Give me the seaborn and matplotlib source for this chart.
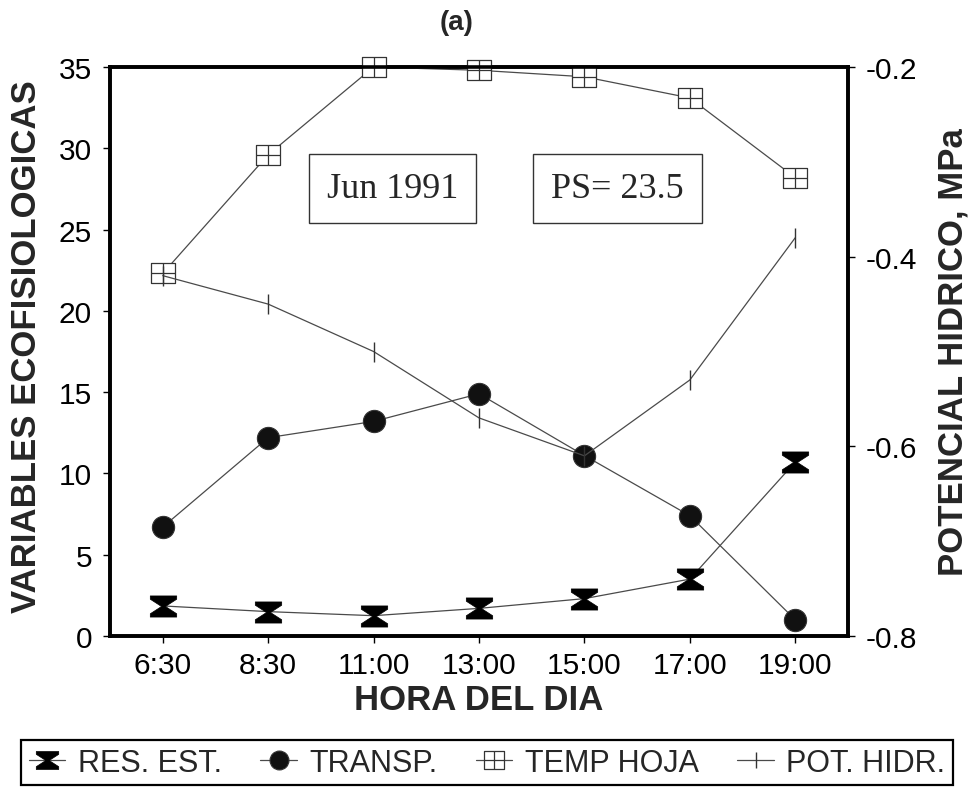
import numpy as np
import matplotlib
matplotlib.use('Agg')
import matplotlib.pyplot as plt
from matplotlib.path import Path
import seaborn as sns

# ── Data ───────────────────────────────────────────────────────────────
horas     = ['6:30', '8:30', '11:00', '13:00', '15:00', '17:00', '19:00']
res_est   = [1.85, 1.5, 1.25, 1.7, 2.3, 3.5, 10.7]
transp    = [6.7, 12.2, 13.2, 14.9, 11.1, 7.4, 1.0]
temp_hoja = [22.3, 29.6, 35.0, 34.8, 34.4, 33.1, 28.2]
pot_hidr  = [-0.42, -0.45, -0.50, -0.57, -0.61, -0.53, -0.38]

left_ticks  = [0, 5, 10, 15, 20, 25, 30, 35]
right_ticks = [-0.8, -0.6, -0.4, -0.2]

# ── Style ──────────────────────────────────────────────────────────────
sns.set_theme(style='ticks')
plt.rcParams['font.family'] = ['Liberation Sans', 'DejaVu Sans']
plt.rcParams['axes.unicode_minus'] = False

LINE = '#4a4a4a'

# custom markers
bowtie = Path([(-1, 0.8), (1, 0.8), (1, 0.55), (0.15, 0), (1, -0.55), (1, -0.8),
               (-1, -0.8), (-1, -0.55), (-0.15, 0), (-1, 0.55), (-1, 0.8)],
              [Path.MOVETO] + [Path.LINETO] * 9 + [Path.CLOSEPOLY])
sq_cross = Path([(-1, -0.85), (1, -0.85), (1, 0.85), (-1, 0.85), (-1, -0.85),
                 (0, -0.85), (0, 0.85), (-1, 0), (1, 0)],
                [Path.MOVETO, Path.LINETO, Path.LINETO, Path.LINETO, Path.CLOSEPOLY,
                 Path.MOVETO, Path.LINETO, Path.MOVETO, Path.LINETO])

pos = np.arange(len(horas))

fig = plt.figure(figsize=(9.71, 8.04), dpi=100)
ax = fig.add_axes([0.1133, 0.2077, 0.76, 0.7077])
ax2 = ax.twinx()

sns.lineplot(x=pos, y=res_est, ax=ax, color=LINE, lw=0.9, marker=bowtie, markersize=19,
             mfc='black', mec='black', mew=0.5, clip_on=False, legend=False,
             label='RES. EST.', zorder=3)
sns.lineplot(x=pos, y=transp, ax=ax, color=LINE, lw=0.9, marker='o', markersize=16,
             mfc='#111111', mec='#333333', mew=0.8, clip_on=False, legend=False,
             label='TRANSP.', zorder=3)
sns.lineplot(x=pos, y=temp_hoja, ax=ax, color=LINE, lw=0.9, marker=sq_cross, markersize=17,
             mfc='white', mec='#333333', mew=0.9, clip_on=False, legend=False,
             label='TEMP HOJA', zorder=3)
sns.lineplot(x=pos, y=pot_hidr, ax=ax2, color=LINE, lw=0.9, marker='|', markersize=14,
             mfc='#333333', mec='#333333', mew=1.0, clip_on=False, legend=False,
             label='POT. HIDR.', zorder=3)

# ── Axes ───────────────────────────────────────────────────────────────
ax.set_xlim(-0.5, 6.5)
ax.set_ylim(0, 35)
ax2.set_ylim(-0.8, -0.2)
ax.set_xticks(pos)
ax.set_xticklabels(horas)
ax.set_yticks(left_ticks)
ax2.set_yticks(right_ticks)
ax2.set_yticklabels([f'{v:.1f}' for v in right_ticks])

for a in (ax, ax2):
    for s in a.spines.values():
        s.set_linewidth(2.6)
        s.set_color('black')
    a.tick_params(direction='out', length=5, width=1, colors='black',
                  labelsize=21.5, pad=8)
    a.grid(False)
ax.tick_params(axis='x', pad=6)

ax.set_xlabel('HORA DEL DIA', fontsize=25, fontweight='bold')
ax.set_ylabel('VARIABLES ECOFISIOLOGICAS', fontsize=25, fontweight='bold')
ax2.set_ylabel('POTENCIAL HIDRICO, MPa', fontsize=25, fontweight='bold')
ax.xaxis.label.set_va('center')
ax.yaxis.label.set_va('center')
ax2.yaxis.label.set_va('center')
ax.xaxis.set_label_coords(0.5, -0.112)
ax.yaxis.set_label_coords(-0.113, 0.51)
ax2.yaxis.set_label_coords(1.142, 0.5)

# text boxes
box = dict(boxstyle='square,pad=0.5', fc='white', ec='#333333', lw=1.0)
ax.text(0.383, 0.786, 'Jun 1991', transform=ax.transAxes, ha='center', va='center',
        fontsize=26, family=['Liberation Serif', 'DejaVu Serif'], bbox=box, zorder=2)
ax.text(0.688, 0.786, 'PS= 23.5', transform=ax.transAxes, ha='center', va='center',
        fontsize=26, family=['Liberation Serif', 'DejaVu Serif'], bbox=box, zorder=2)

fig.text(0.47, 0.972, '(a)', ha='center', va='center', fontsize=20, fontweight='bold')

# legend
h1, l1 = ax.get_legend_handles_labels()
h2, l2 = ax2.get_legend_handles_labels()
leg = fig.legend(h1 + h2, l1 + l2, loc='lower left', ncol=4, mode='expand',
                 bbox_to_anchor=(0.006, 0.003, 0.991, 0.065),
                 prop=dict(family=['Liberation Sans Narrow', 'Liberation Sans'], size=22),
                 fancybox=False, framealpha=1, edgecolor='black',
                 handlelength=1.2, handletextpad=0.4, borderpad=0.25, markerscale=0.85)
leg.get_frame().set_linewidth(1.6)

fig.savefig('out.png', dpi=100)
